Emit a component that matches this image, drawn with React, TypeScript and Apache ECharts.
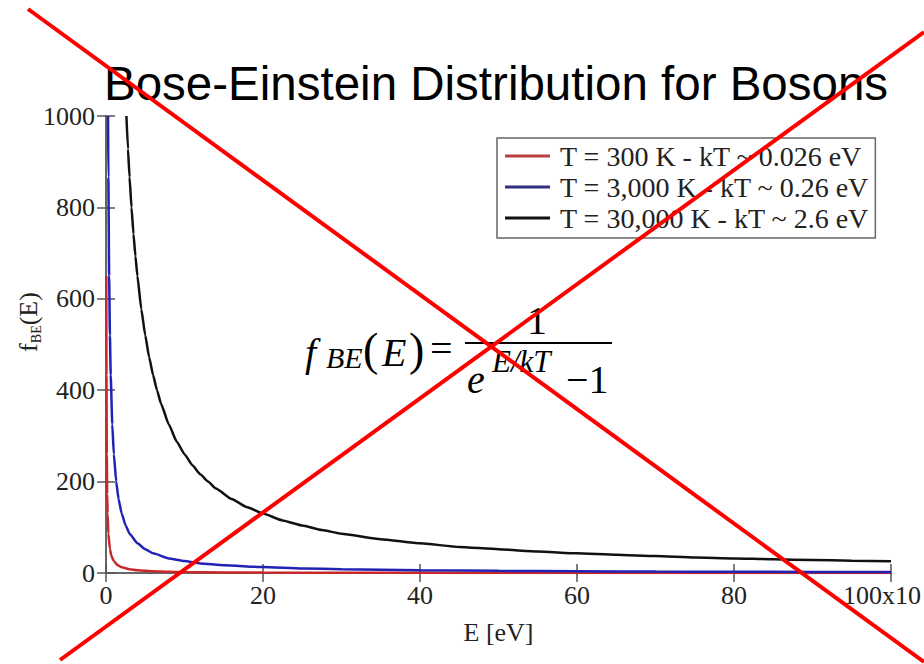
import React, { useEffect, useRef } from "react";
import * as echarts from "echarts";

// Energy in units of 10^-3 eV, occupation number f_BE(E)
const redEnergy = [0.04, 0.06, 0.1, 0.15, 0.2, 0.3, 0.5, 0.7, 1, 1.5, 2, 3, 4, 5, 6, 8, 10, 15, 20, 30, 40, 50, 60, 80, 100];
const redValues = [650, 433, 260, 173, 130, 86, 52, 37, 26, 17, 12.5, 8.2, 6, 4.7, 3.9, 2.8, 2.1, 1.3, 0.9, 0.5, 0.3, 0.2, 0.1, 0.05, 0.02];

const blueEnergy = [0.26, 0.3, 0.4, 0.5, 0.6, 0.8, 1, 1.3, 1.6, 2, 2.5, 3, 4, 5, 6, 8, 10, 12, 15, 20, 25, 30, 40, 50, 60, 70, 80, 90, 100];
const blueValues = [1000, 866, 650, 520, 433, 325, 260, 200, 162, 130, 104, 86, 65, 52, 43, 32, 26, 21, 17, 13, 10, 8.2, 6, 4.7, 3.8, 3.2, 2.8, 2.4, 2.1];

const blackEnergy = [2.6, 2.8, 3, 3.25, 3.5, 3.75, 4, 4.5, 5, 5.5, 6, 6.5, 7, 8, 9, 10, 11, 12, 13, 14, 16, 18, 20, 22.5, 25, 27.5, 30, 35, 40, 45, 50, 55, 60, 65, 70, 75, 80, 85, 90, 95, 100];
const blackValues = [1000, 928, 866, 800, 742, 693, 650, 577, 520, 472, 433, 400, 371, 325, 288, 260, 236, 216, 200, 185, 162, 144, 130, 115, 104, 94, 86, 74, 65, 57, 52, 47, 43, 40, 37, 34, 32, 30, 28.4, 27, 25.5];

const seriesNames = [
  "T = 300 K - kT ~ 0.026 eV",
  "T = 3,000 K - kT ~ 0.26 eV",
  "T = 30,000 K - kT ~ 2.6 eV",
];

const xTicks = [0, 20, 40, 60, 80, 100];
const yTicks = [0, 200, 400, 600, 800, 1000];

const titleText = "Bose-Einstein Distribution for Bosons";

const pair = (xs: number[], ys: number[]) => xs.map((x, i) => [x, ys[i]]);

const SERIF = '"Liberation Serif", "Times New Roman", serif';
const SANS = '"Liberation Sans", Arial, sans-serif';

export default function App() {
  const ref = useRef<HTMLDivElement>(null);

  useEffect(() => {
    if (!ref.current) return;
    const chart = echarts.init(ref.current, null, { renderer: "svg" });

    const frame = { show: true, lineStyle: { color: "#666", width: 2 } };
    const innerTick = { show: true, inside: true, length: 9, lineStyle: { color: "#555", width: 1.5 } };

    const xBase = {
      type: "value" as const,
      min: xTicks[0],
      max: xTicks[xTicks.length - 1],
      interval: 20,
      splitLine: { show: false },
      axisLine: frame,
      axisTick: innerTick,
    };
    const yBase = {
      type: "value" as const,
      min: yTicks[0],
      max: yTicks[yTicks.length - 1],
      interval: 200,
      splitLine: { show: false },
      axisLine: frame,
      axisTick: innerTick,
    };

    const mathText = (text: string, x: number, y: number, size: number, italic: boolean) => ({
      type: "text",
      x,
      y,
      z: 50,
      style: {
        text,
        font: `${italic ? "italic " : ""}${size}px ${SERIF}`,
        fill: "#000",
        align: "left",
        verticalAlign: "bottom",
      },
    });

    const curve = (name: string, data: number[][], color: string, legendColor: string, z: number) => ({
      name,
      type: "line",
      data,
      showSymbol: false,
      smooth: 0.15,
      smoothMonotone: "x",
      lineStyle: { color, width: 2.5 },
      itemStyle: { color: legendColor },
      z,
    });

    chart.setOption({
      animation: false,
      backgroundColor: "#fff",
      title: {
        text: titleText,
        left: 99,
        top: 54,
        textStyle: { fontFamily: SANS, fontSize: 47.5, fontWeight: "normal", color: "#000" },
      },
      legend: {
        orient: "vertical",
        left: 497,
        top: 138,
        icon: "rect",
        itemWidth: 45,
        itemHeight: 3,
        itemGap: 3,
        padding: [4, 6, 6, 8],
        borderColor: "#666",
        borderWidth: 1.5,
        backgroundColor: "#fff",
        data: seriesNames,
        textStyle: { fontFamily: SERIF, fontSize: 28, color: "#222", padding: [0, 0, 0, 5] },
      },
      grid: { left: 106, right: 33, top: 116, bottom: 91, outerBoundsMode: "none", containLabel: false },
      xAxis: [
        {
          ...xBase,
          position: "bottom",
          name: "E [eV]",
          nameLocation: "middle",
          nameGap: 46,
          nameTextStyle: { fontFamily: SERIF, fontSize: 26, color: "#222" },
          axisLabel: {
            margin: 9,
            fontFamily: SERIF,
            fontSize: 26,
            color: "#222",
            formatter: (v: number) => (v === 100 ? "{last|100x10}" : String(v)),
            rich: { last: { fontFamily: SERIF, fontSize: 26, color: "#222", padding: [0, 18, 0, 0] } },
          },
        },
        { ...xBase, position: "top", axisLabel: { show: false } },
      ],
      yAxis: [
        {
          ...yBase,
          position: "left",
          axisLabel: {
            margin: 11,
            fontFamily: SERIF,
            fontSize: 26,
            color: "#222",
            formatter: (v: number) => String(v),
          },
        },
        { ...yBase, position: "right", axisLabel: { show: false } },
      ],
      series: [
        curve(seriesNames[0], pair(redEnergy, redValues), "#c8282a", "#b84040", 3),
        curve(seriesNames[1], pair(blueEnergy, blueValues), "#2222b4", "#303080", 4),
        curve(seriesNames[2], pair(blackEnergy, blackValues), "#111", "#111", 5),
      ],
      graphic: [
        // y-axis title f_BE(E), rotated
        {
          type: "text",
          x: 28,
          y: 322,
          rotation: Math.PI / 2,
          z: 20,
          style: {
            text: "{f|f}{s|BE}{f|(E)}",
            align: "center",
            verticalAlign: "middle",
            rich: {
              f: { font: `26px ${SERIF}`, fill: "#222", lineHeight: 30, verticalAlign: "middle" },
              s: { font: `14px ${SERIF}`, fill: "#222", lineHeight: 14, verticalAlign: "bottom" },
            },
          },
        },
        // formula f_BE(E) = 1 / (e^(E/kT) - 1)
        mathText("f", 305, 372, 40, true),
        mathText("BE", 326, 372, 30, true),
        mathText("(", 363, 372, 46, false),
        mathText("E", 382, 372, 40, true),
        mathText(")", 409, 372, 46, false),
        mathText("=", 430, 368, 40, false),
        {
          type: "line",
          z: 50,
          shape: { x1: 465, y1: 343, x2: 612, y2: 343 },
          style: { stroke: "#000", lineWidth: 2 },
        },
        mathText("1", 527, 340, 40, false),
        mathText("e", 467, 399, 40, true),
        mathText("E/kT", 492, 377, 31, true),
        mathText("\u22121", 566, 399, 40, false),
        // red cross over the whole figure
        {
          type: "line",
          z: 100,
          shape: { x1: 28, y1: 9, x2: 924, y2: 662 },
          style: { stroke: "#ff0000", lineWidth: 4 },
        },
        {
          type: "line",
          z: 100,
          shape: { x1: 60, y1: 660, x2: 924, y2: 32 },
          style: { stroke: "#ff0000", lineWidth: 4 },
        },
      ],
    });

    return () => chart.dispose();
  }, []);

  return (
    <div
      ref={ref}
      style={{ position: "fixed", left: 0, top: 0, width: 924, height: 664, background: "#fff" }}
    />
  );
}
